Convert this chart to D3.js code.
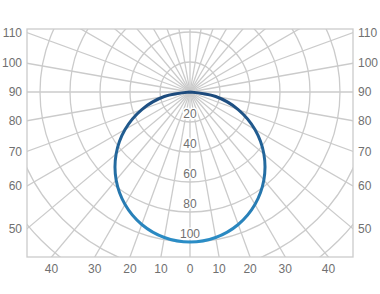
<!DOCTYPE html>
<html>
<head>
<meta charset="utf-8">
<script src="https://cdn.jsdelivr.net/npm/d3@7"></script>
<style>
  body { margin: 0; background: #fff; }
  text { font-family: "Liberation Sans", Arial, sans-serif; }
</style>
</head>
<body>
<div id="wrapper"></div>
<script>
// angles (deg from nadir) and intensity
const curveAngles = [-90, -80, -70, -60, -50, -40, -30, -20, -10, 0, 10, 20, 30, 40, 50, 60, 70, 80, 90]
const curveValues = [0, 17.4, 34.2, 50, 64.3, 76.6, 86.6, 94, 98.5, 100, 98.5, 94, 86.6, 76.6, 64.3, 50, 34.2, 17.4, 0]

const ringTicks = [20, 40, 60, 80, 100, 120, 140, 160, 180]
const ringLabels = [20, 40, 60, 80, 100]
const spokeAngles = d3.range(0, 360, 10)
const sideLabels = [50, 60, 70, 80, 90, 100, 110]
const bottomLabels = [-40, -30, -20, -10, 0, 10, 20, 30, 40]

const dimensions = {
    width: 380,
    height: 294,
    margin: { top: 29, right: 27, bottom: 37, left: 27 },
}
dimensions.boundedWidth = dimensions.width - dimensions.margin.left - dimensions.margin.right
dimensions.boundedHeight = dimensions.height - dimensions.margin.top - dimensions.margin.bottom

const cx = 163   // center inside bounds
const cy = 63

const rScale = d3.scaleLinear().domain([0, 100]).range([0, 150])
const toRad = a => a * Math.PI / 180

const wrapper = d3.select("#wrapper").append("svg")
    .attr("width", dimensions.width)
    .attr("height", dimensions.height)

const defs = wrapper.append("defs")
defs.append("clipPath").attr("id", "plotClip")
    .append("rect")
    .attr("width", dimensions.boundedWidth)
    .attr("height", dimensions.boundedHeight)

const grad = defs.append("linearGradient")
    .attr("id", "curveGrad")
    .attr("gradientUnits", "userSpaceOnUse")
    .attr("x1", 0).attr("x2", 0)
    .attr("y1", cy).attr("y2", cy + rScale(100))
grad.append("stop").attr("offset", "0%").attr("stop-color", "#1d4a7c")
grad.append("stop").attr("offset", "100%").attr("stop-color", "#2b8dc6")

const bounds = wrapper.append("g")
    .attr("transform", `translate(${dimensions.margin.left},${dimensions.margin.top})`)

const grid = bounds.append("g").attr("clip-path", "url(#plotClip)")

// rings
grid.selectAll(".ring")
    .data(ringTicks)
    .join("circle")
    .attr("cx", cx).attr("cy", cy)
    .attr("r", d => rScale(d))
    .attr("fill", "none")
    .attr("stroke", "#cbcbcb")
    .attr("stroke-width", 1.3)

// spokes (angle measured from straight down)
grid.selectAll(".spoke")
    .data(spokeAngles)
    .join("line")
    .attr("x1", cx).attr("y1", cy)
    .attr("x2", d => cx + Math.sin(toRad(d)) * 500)
    .attr("y2", d => cy + Math.cos(toRad(d)) * 500)
    .attr("stroke", "#cbcbcb")
    .attr("stroke-width", 1.3)

// frame
bounds.append("rect")
    .attr("width", dimensions.boundedWidth)
    .attr("height", dimensions.boundedHeight)
    .attr("fill", "none")
    .attr("stroke", "#cbcbcb")
    .attr("stroke-width", 1.3)

// ring labels
bounds.selectAll(".ringLabel")
    .data(ringLabels)
    .join("text")
    .attr("x", cx)
    .attr("y", d => cy + rScale(d) - 4)
    .attr("text-anchor", "middle")
    .attr("font-size", 12)
    .attr("fill", "#707070")
    .attr("stroke", "#fff")
    .attr("stroke-width", 3)
    .attr("paint-order", "stroke")
    .text(d => d)

// curve
const points = curveAngles.map((a, i) => {
    const r = rScale(curveValues[i])
    return [cx + Math.sin(toRad(a)) * r, cy + Math.cos(toRad(a)) * r]
})
bounds.append("path")
    .datum(points)
    .attr("d", d3.line().curve(d3.curveCatmullRom))
    .attr("fill", "none")
    .attr("stroke", "url(#curveGrad)")
    .attr("stroke-width", 3)

// side labels where spokes meet the frame
const halfW = cx
sideLabels.forEach(a => {
    const y = cy + halfW / Math.tan(toRad(a))
    bounds.append("text")
        .attr("x", -5).attr("y", y)
        .attr("dy", "0.35em")
        .attr("text-anchor", "end")
        .attr("font-size", 12)
        .attr("fill", "#707070")
        .text(a)
    bounds.append("text")
        .attr("x", dimensions.boundedWidth + 5).attr("y", y)
        .attr("dy", "0.35em")
        .attr("text-anchor", "start")
        .attr("font-size", 12)
        .attr("fill", "#707070")
        .text(a)
})

// bottom labels
const depth = dimensions.boundedHeight - cy
bounds.selectAll(".bottomLabel")
    .data(bottomLabels)
    .join("text")
    .attr("x", d => cx + Math.tan(toRad(d)) * depth)
    .attr("y", dimensions.boundedHeight + 16)
    .attr("text-anchor", "middle")
    .attr("font-size", 12)
    .attr("fill", "#707070")
    .text(d => Math.abs(d))
</script>
</body>
</html>
